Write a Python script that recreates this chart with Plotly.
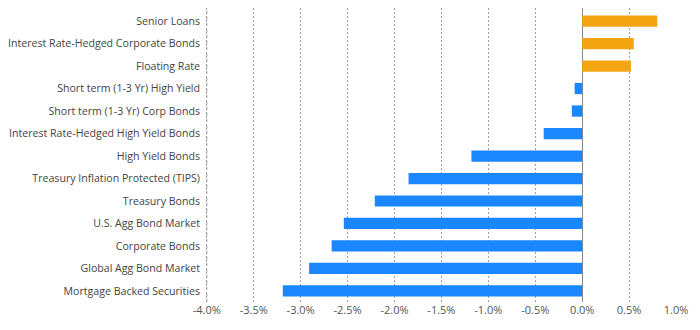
import plotly.graph_objects as go

categories = [
    "Senior Loans",
    "Interest Rate-Hedged Corporate Bonds",
    "Floating Rate",
    "Short term (1-3 Yr) High Yield",
    "Short term (1-3 Yr) Corp Bonds",
    "Interest Rate-Hedged High Yield Bonds",
    "High Yield Bonds",
    "Treasury Inflation Protected (TIPS)",
    "Treasury Bonds",
    "U.S. Agg Bond Market",
    "Corporate Bonds",
    "Global Agg Bond Market",
    "Mortgage Backed Securities",
]
values = [0.80, 0.55, 0.52, -0.08, -0.11, -0.41, -1.18, -1.85, -2.21, -2.54, -2.67, -2.91, -3.19]
tick_vals = [-4.0, -3.5, -3.0, -2.5, -2.0, -1.5, -1.0, -0.5, 0.0, 0.5, 1.0]
tick_text = ["-4.0%", "-3.5%", "-3.0%", "-2.5%", "-2.0%", "-1.5%", "-1.0%", "-0.5%", "0.0%", "0.5%", "1.0%"]

POS = "#F3A512"
NEG = "#1A86FF"
GRID = "#a0a0a0"
colors = [POS if v >= 0 else NEG for v in values]

fig = go.Figure(go.Bar(
    x=values, y=categories, orientation="h",
    marker=dict(color=colors, line=dict(width=0)),
    width=0.5,
    hoverinfo="skip",
))

# explicit gridline at the first tick (plotly drops the edge gridline)
fig.add_shape(type="line", xref="x", yref="paper",
              x0=tick_vals[0], x1=tick_vals[0], y0=0, y1=1,
              line=dict(color=GRID, width=1, dash="dot"), layer="above")

fig.update_layout(
    width=700, height=330,
    margin=dict(l=204, r=24, t=8, b=28, autoexpand=False),
    paper_bgcolor="white", plot_bgcolor="white",
    font=dict(family="Open Sans", size=11, color="#444"),
    showlegend=False,
)
fig.update_xaxes(
    range=[-4.03, 1.0], tickvals=tick_vals, ticktext=tick_text,
    showgrid=True, gridcolor=GRID, griddash="2px,2px", gridwidth=1,
    zeroline=True, zerolinecolor="#888", zerolinewidth=1,
    showline=False, ticks="", tickfont=dict(size=11, color="#555"),
    automargin=False,
)
fig.update_yaxes(
    categoryorder="array", categoryarray=categories[::-1],
    range=[-0.49, 12.58],
    showgrid=False, showline=False, ticks="", ticklabelstandoff=3,
    tickfont=dict(size=10.6, color="#444"),
    automargin=False,
)

fig.write_html("out.html")
